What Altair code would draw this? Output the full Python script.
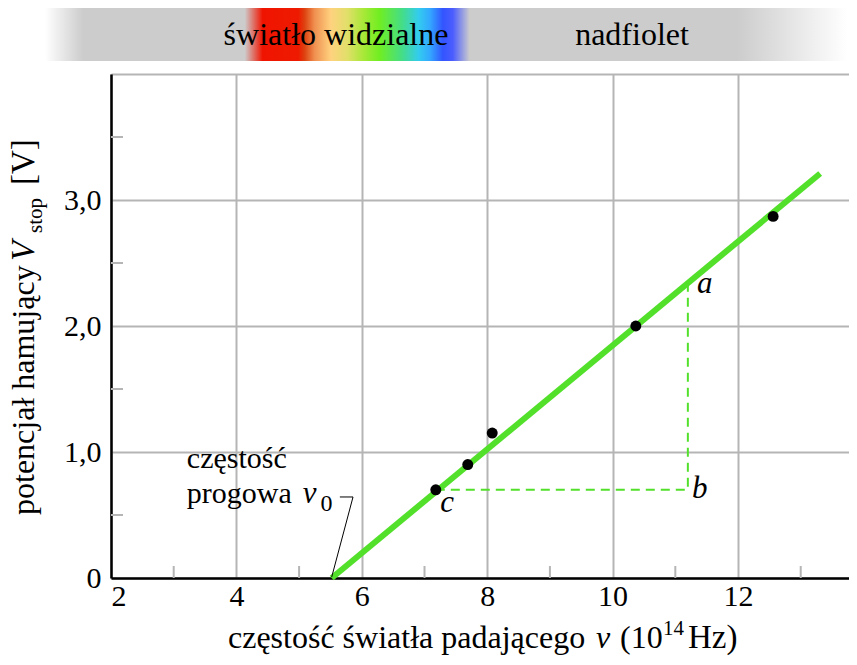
import altair as alt
import pandas as pd

# ---- data ----
freq = [7.18, 7.69, 8.08, 10.37, 12.56]
volt = [0.70, 0.90, 1.15, 2.00, 2.87]
fit_freq = [5.52, 13.31]
fit_volt = [0.0, 3.21]
guide_freq = [7.18, 11.2, 11.2]
guide_volt = [0.70, 0.70, 2.34]
leader_freq = [5.65, 5.86, 5.52]
leader_volt = [0.643, 0.643, 0.008]
x_ticks = [2, 4, 6, 8, 10, 12]
x_minor = [3, 5, 7, 9, 11, 13]
y_ticks = [0, 1, 2, 3, 4]
y_minor = [0.5, 1.5, 2.5, 3.5]
letters = ["a", "b", "c"]
letter_freq = [11.47, 11.39, 7.36]
letter_volt = [2.33, 0.71, 0.595]

FONT = "'Liberation Serif', 'DejaVu Serif', serif"
GREEN = "#52e02a"
GRID = "#b5b5b5"
W, H = 738, 504

xs = alt.Scale(domain=[2, 13.77], nice=False, zero=False)
ys = alt.Scale(domain=[0, 4], nice=False, zero=False)
x_axis = alt.Axis(values=x_ticks, grid=True, ticks=False, title=None, format="d",
                  labelFont=FONT, labelFontSize=30, labelColor="black", labelPadding=3,
                  domainColor="black", domainWidth=2.5, gridColor=GRID, gridWidth=2)
y_axis = alt.Axis(values=y_ticks, grid=True, ticks=False, title=None,
                  labelExpr="datum.value == 4 ? '' : datum.value == 0 ? '0' : replace(format(datum.value, '.1f'), '.', ',')",
                  labelFont=FONT, labelFontSize=30, labelColor="black", labelPadding=10,
                  domainColor="black", domainWidth=2.5, gridColor=GRID, gridWidth=2)
X = alt.X("f:Q", scale=xs, axis=x_axis)
Y = alt.Y("v:Q", scale=ys, axis=y_axis)

one = pd.DataFrame({"k": [0]})

# spectrum band above the plot
band = alt.Chart(one).mark_rect(
    fill=alt.Gradient(
        gradient="linear", x1=0, x2=1, y1=0, y2=0,
        stops=[
            alt.GradientStop(color="#ffffff", offset=0.0),
            alt.GradientStop(color="#cccccc", offset=0.047),
            alt.GradientStop(color="#cccccc", offset=0.246),
            alt.GradientStop(color="#f01400", offset=0.268),
            alt.GradientStop(color="#ee1a00", offset=0.312),
            alt.GradientStop(color="#dd4411", offset=0.320),
            alt.GradientStop(color="#f09050", offset=0.332),
            alt.GradientStop(color="#ffd27f", offset=0.352),
            alt.GradientStop(color="#e2df6a", offset=0.372),
            alt.GradientStop(color="#a8e838", offset=0.392),
            alt.GradientStop(color="#70ee22", offset=0.412),
            alt.GradientStop(color="#44dd88", offset=0.440),
            alt.GradientStop(color="#33ccee", offset=0.460),
            alt.GradientStop(color="#33a8ff", offset=0.474),
            alt.GradientStop(color="#3355ff", offset=0.490),
            alt.GradientStop(color="#4a5cff", offset=0.502),
            alt.GradientStop(color="#cccccc", offset=0.523),
            alt.GradientStop(color="#cccccc", offset=0.852),
            alt.GradientStop(color="#ffffff", offset=0.988),
            alt.GradientStop(color="#ffffff", offset=1.0),
        ],
    )
).encode(x=alt.value(-66), x2=alt.value(746), y=alt.value(-69), y2=alt.value(-13))

band_text = alt.Chart(pd.DataFrame({
    "t": ["światło widzialne", "nadfiolet"], "px": [225, 521]
})).mark_text(font=FONT, fontSize=32, color="black", align="center", baseline="alphabetic").encode(
    x=alt.X("px:Q", scale=None), y=alt.value(-29), text="t:N")

# minor ticks
xminor = alt.Chart(pd.DataFrame({"f": x_minor})).mark_rule(color=GRID, strokeWidth=2).encode(
    x=X, y=alt.value(H), y2=alt.value(H - 12))
yminor = alt.Chart(pd.DataFrame({"v": y_minor})).mark_rule(color=GRID, strokeWidth=2).encode(
    y=Y, x=alt.value(0), x2=alt.value(12))

fit = alt.Chart(pd.DataFrame({"f": fit_freq, "v": fit_volt})).mark_line(
    color=GREEN, strokeWidth=6, strokeCap="butt").encode(x=X, y=Y)

guide = alt.Chart(pd.DataFrame({"f": guide_freq, "v": guide_volt, "o": [0, 1, 2]})).mark_line(
    color=GREEN, strokeWidth=2, strokeDash=[9, 6]).encode(x=X, y=Y, order="o:Q")

leader = alt.Chart(pd.DataFrame({"f": leader_freq, "v": leader_volt, "o": [0, 1, 2]})).mark_line(
    color="black", strokeWidth=1).encode(x=X, y=Y, order="o:Q")

pts = alt.Chart(pd.DataFrame({"f": freq, "v": volt})).mark_circle(
    color="black", size=120, opacity=1).encode(x=X, y=Y)

letter_txt = alt.Chart(pd.DataFrame({"f": letter_freq, "v": letter_volt, "t": letters})).mark_text(
    font=FONT, fontSize=31, fontStyle="italic", color="black", align="center", baseline="middle").encode(
    x=X, y=Y, text="t:N")

ann_norm = alt.Chart(pd.DataFrame({"f": [3.21, 3.21], "v": [0.873, 0.595], "t": ["częstość", "progowa"]})).mark_text(
    font=FONT, fontSize=30, color="black", align="left", baseline="alphabetic").encode(x=X, y=Y, text="t:N")
ann_nu = alt.Chart(pd.DataFrame({"f": [5.06], "v": [0.595], "t": ["ν"]})).mark_text(
    font=FONT, fontSize=31, fontStyle="italic", color="black", align="left", baseline="alphabetic").encode(x=X, y=Y, text="t:N")
ann_sub = alt.Chart(pd.DataFrame({"f": [5.34], "v": [0.53], "t": ["0"]})).mark_text(
    font=FONT, fontSize=24, color="black", align="left", baseline="alphabetic").encode(x=X, y=Y, text="t:N")

# x title pieces (pixel positions relative to plot)
xt_norm = pd.DataFrame({
    "t": ["częstość światła padającego", "(10", "14", "Hz)"],
    "px": [117, 509, 552, 577],
    "py": [574, 574, 561, 574],
    "sz": [32, 32, 21, 33],
})
xt_ital = pd.DataFrame({"t": ["ν"], "px": [485], "py": [574], "sz": [32]})

# y title pieces (rotated)
yt_norm = pd.DataFrame({
    "t": ["potencjał hamujący", "stop", "[V]"],
    "px": [-77, -69, -77],
    "py": [441, 159, 111],
    "sz": [32, 21, 33],
})
yt_ital = pd.DataFrame({"t": ["V"], "px": [-77], "py": [187], "sz": [33]})


def piece(df, style, angle=0):
    return alt.Chart(df).mark_text(font=FONT, color="black", align="left", baseline="alphabetic",
                                   fontStyle=style, angle=angle).encode(
        x=alt.X("px:Q", scale=None), y=alt.Y("py:Q", scale=None), text="t:N",
        size=alt.Size("sz:Q", scale=None, legend=None))


titles = [piece(xt_norm, "normal"), piece(xt_ital, "italic"),
          piece(yt_norm, "normal", 270), piece(yt_ital, "italic", 270)]

chart = alt.layer(
    xminor, yminor, band, band_text, fit, guide, leader, pts, letter_txt,
    ann_norm, ann_nu, ann_sub, *titles
).properties(
    width=W, height=H,
    autosize=alt.AutoSizeParams(type="none"),
    padding={"left": 103, "top": 66, "right": 0, "bottom": 78},
    background="white",
).configure_view(stroke=None)

chart.save("out.html", embed_options={"renderer": "svg", "actions": False})
